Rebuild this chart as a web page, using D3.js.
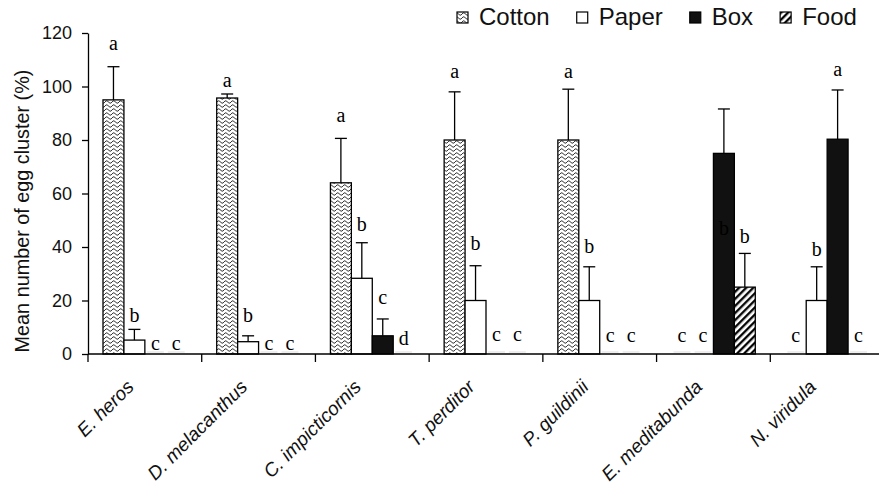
<!DOCTYPE html>
<html><head><meta charset="utf-8">
<script src="https://cdn.jsdelivr.net/npm/d3@7"></script>
<style>body{margin:0;background:#fff}svg{display:block}</style>
</head><body>
<svg id="c" width="879" height="490"></svg>
<script>
const categories = ["E. heros","D. melacanthus","C. impicticornis","T. perditor","P. guildinii","E. meditabunda","N. viridula"];
const seriesNames = ["Cotton","Paper","Box","Food"];
const cotton = [95, 95.7, 64, 80, 80, 0, 0];
const paper  = [5.2, 4.6, 28.3, 20, 20, 0, 20];
const box    = [0, 0, 6.8, 0, 0, 75, 80.3];
const food   = [0, 0, 0, 0, 0, 25, 0];
const cottonSE = [12.4, 1.5, 16.6, 18, 19, 0, 0];
const paperSE  = [4, 2.2, 13.3, 13, 12.6, 0, 12.6];
const boxSE    = [0, 0, 6.3, 0, 0, 16.6, 18.4];
const foodSE   = [0, 0, 0, 0, 0, 12.6, 0];
const cottonLetters = ["a","a","a","a","a","c","c"];
const paperLetters  = ["b","b","b","b","b","c","b"];
const boxLetters    = ["c","c","c","c","c","b","a"];
const foodLetters   = ["c","c","d","c","c","b","c"];
// label heights (data units)
const cottonLetterY = [113.6, 99.8, 86.8, 103, 103, 4.6, 4.6];
const paperLetterY  = [12, 12, 46, 38.9, 37.6, 4.6, 36.6];
const boxLetterY    = [1.5, 1.5, 18.7, 5, 4.6, 44.5, 104];
const foodLetterY   = [1.5, 1.5, 3.4, 5, 4.6, 41.4, 4.6];
const yTicks = [0, 20, 40, 60, 80, 100, 120];
const yTitle = "Mean number of egg cluster (%)";

const values = [cotton, paper, box, food];
const ses = [cottonSE, paperSE, boxSE, foodSE];
const letters = [cottonLetters, paperLetters, boxLetters, foodLetters];
const letterYs = [cottonLetterY, paperLetterY, boxLetterY, foodLetterY];

const svg = d3.select("#c");
const defs = svg.append("defs");
const pc = defs.append("pattern").attr("id","pCotton").attr("patternUnits","userSpaceOnUse")
  .attr("width",7).attr("height",4);
pc.append("rect").attr("width",7).attr("height",4).attr("fill","#fff");
pc.append("path").attr("d","M0,2 C1.2,0.4 2.3,0.4 3.5,2 S5.8,3.6 7,2")
  .attr("fill","none").attr("stroke","#222").attr("stroke-width",1);
const pf = defs.append("pattern").attr("id","pFood").attr("patternUnits","userSpaceOnUse")
  .attr("width",5).attr("height",5).attr("patternTransform","rotate(45)");
pf.append("rect").attr("width",5).attr("height",5).attr("fill","#fff");
pf.append("line").attr("x1",1.2).attr("y1",0).attr("x2",1.2).attr("y2",5)
  .attr("stroke","#000").attr("stroke-width",2.3);

const fills = {Cotton:"url(#pCotton)", Paper:"#fff", Box:"#111", Food:"url(#pFood)"};

const x0 = d3.scaleBand().domain(categories).range([88, 884]);
const bw = x0.bandwidth();
const x1 = d3.scaleBand().domain(seriesNames).range([15, bw - 15]);
const y = d3.scaleLinear().domain([0, 120]).range([354, 33]);

const rows = [];
categories.forEach((c, i) => seriesNames.forEach((s, j) => {
  rows.push({cat: c, s, v: values[j][i], se: ses[j][i], l: letters[j][i], ly: letterYs[j][i]});
}));

const g = svg.append("g");
g.selectAll(".zero").data(rows.filter(d => d.v === 0)).join("line")
  .attr("x1", d => x0(d.cat) + x1(d.s) + 2).attr("x2", d => x0(d.cat) + x1(d.s) + x1.bandwidth() - 2)
  .attr("y1", y(0) - 2).attr("y2", y(0) - 2).attr("stroke","#ddd").attr("stroke-width",1);
g.selectAll(".bar").data(rows.filter(d => d.v > 0)).join("rect")
  .attr("x", d => x0(d.cat) + x1(d.s))
  .attr("y", d => y(d.v))
  .attr("width", x1.bandwidth())
  .attr("height", d => y(0) - y(d.v))
  .attr("fill", d => fills[d.s]).attr("stroke","#000").attr("stroke-width",1.3);
const eb = rows.filter(d => d.se > 0);
g.selectAll(".ev").data(eb).join("line")
  .attr("x1", d => x0(d.cat) + x1(d.s) + x1.bandwidth()/2)
  .attr("x2", d => x0(d.cat) + x1(d.s) + x1.bandwidth()/2)
  .attr("y1", d => y(d.v)).attr("y2", d => y(d.v + d.se))
  .attr("stroke","#000").attr("stroke-width",1.3);
g.selectAll(".ec").data(eb).join("line")
  .attr("x1", d => x0(d.cat) + x1(d.s) + x1.bandwidth()/2 - 6)
  .attr("x2", d => x0(d.cat) + x1(d.s) + x1.bandwidth()/2 + 6)
  .attr("y1", d => y(d.v + d.se)).attr("y2", d => y(d.v + d.se))
  .attr("stroke","#000").attr("stroke-width",1.3);
g.selectAll(".lt").data(rows).join("text")
  .attr("x", d => x0(d.cat) + x1(d.s) + x1.bandwidth()/2)
  .attr("y", d => y(d.ly))
  .attr("text-anchor","middle")
  .attr("font-family","'Liberation Serif','Times New Roman',serif")
  .attr("font-size",20).attr("fill","#000")
  .text(d => d.l);

const ya = svg.append("g").attr("transform","translate(88,0)")
  .call(d3.axisLeft(y).tickValues(yTicks).tickSize(6).tickSizeOuter(0).tickPadding(10));
ya.selectAll("text").attr("font-family","'Liberation Sans',Arial,sans-serif").attr("font-size",18).attr("fill","#111");
ya.selectAll("line,path").attr("stroke","#000").attr("stroke-width",1.3);

svg.append("line").attr("x1",88).attr("x2",879).attr("y1",y(0)).attr("y2",y(0))
  .attr("stroke","#000").attr("stroke-width",1.3);
svg.selectAll(".xt").data(categories).join("line")
  .attr("x1", d => x0(d)).attr("x2", d => x0(d))
  .attr("y1", y(0)).attr("y2", y(0) + 8)
  .attr("stroke","#000").attr("stroke-width",1.3);
svg.selectAll(".xl").data(categories).join("text")
  .attr("transform", d => `translate(${x0(d) + bw/2 - 10},${y(0) + 34}) rotate(-45)`)
  .attr("text-anchor","end")
  .attr("font-family","'Liberation Sans',Arial,sans-serif")
  .attr("font-style","italic").attr("font-size",19).attr("fill","#111")
  .text(d => d);

const tt = svg.append("text").attr("transform", `translate(29,211) rotate(-90)`)
  .attr("text-anchor","middle")
  .attr("font-family","'Liberation Sans',Arial,sans-serif").attr("font-size",19).attr("fill","#111")
  .text(yTitle);
const tlen = tt.node().getComputedTextLength();
tt.attr("font-size", 19 * 283 / tlen);

let lx = 457;
seriesNames.forEach(s => {
  svg.append("rect").attr("x", lx).attr("y", 12).attr("width", 11).attr("height", 11)
    .attr("fill", fills[s]).attr("stroke","#000").attr("stroke-width",1.2);
  const t = svg.append("text").attr("x", lx + 22).attr("y", 25)
    .attr("font-family","'Liberation Sans',Arial,sans-serif").attr("font-size",24).attr("fill","#111")
    .text(s);
  lx = lx + 22 + t.node().getComputedTextLength() + 27;
});
</script>
</body></html>
